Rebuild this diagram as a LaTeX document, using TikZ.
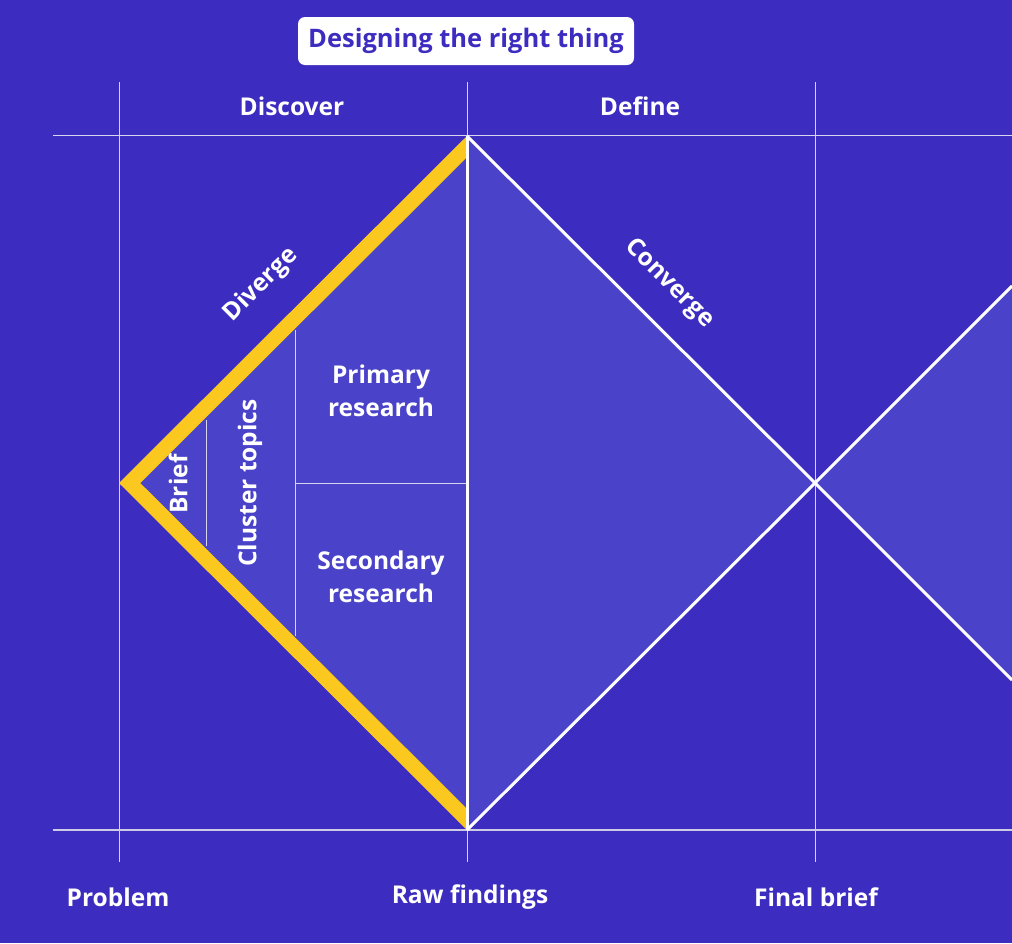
\documentclass[tikz,border=0pt]{standalone}
\usepackage{fontspec}
\setmainfont{Open Sans}
\definecolor{bg}{RGB}{61,44,192}
\definecolor{lite}{RGB}{74,66,200}
\definecolor{gold}{RGB}{250,200,30}
\definecolor{gridc}{RGB}{215,212,240}
\tikzset{
  gridline/.style={draw=gridc, line width=1pt},
  baseline2/.style={draw=gridc!90!gray, line width=2pt},
  innerline/.style={draw=gridc, line width=0.9pt},
  edgeline/.style={draw=white, line width=3pt},
  lbl/.style={text=white, font=\fontsize{24.5}{28}\selectfont\bfseries, inner sep=0pt},
  blk/.style={text=white, font=\fontsize{24.5}{33}\selectfont\bfseries, align=center, inner sep=0pt},
}
\begin{document}
\begin{tikzpicture}[x=1pt,y=-1pt]
\fill[bg] (0,0) rectangle (1012,943);
\useasboundingbox (0,0) rectangle (1012,943);
\coordinate (L) at (119,483);
\coordinate (T) at (467,136);
\coordinate (B) at (467,830);
\coordinate (R) at (815,483);
\coordinate (T2) at (1012,286);
\coordinate (B2) at (1012,680);
% fills
\fill[lite] (L)--(T)--(R)--(B)--cycle;
\fill[lite] (R)--(T2)--(B2)--cycle;
% grid
\coordinate (v1a) at (119,82); \coordinate (v1b) at (119,862);
\coordinate (v2a) at (467,82); \coordinate (v2b) at (467,862);
\coordinate (v3a) at (815,82); \coordinate (v3b) at (815,862);
\coordinate (h1a) at (53,135); \coordinate (h1b) at (1012,135);
\coordinate (h2a) at (53,830); \coordinate (h2b) at (1012,830);
\draw[gridline] (v1a)--(v1b);
\draw[gridline] (v2a)--(v2b);
\draw[gridline] (v3a)--(v3b);
\draw[gridline] (h1a)--(h1b);
\draw[baseline2] (h2a)--(h2b);
% inner lines
\coordinate (i1a) at (206,420); \coordinate (i1b) at (206,546);
\coordinate (i2a) at (295,330); \coordinate (i2b) at (295,636);
\coordinate (i3a) at (295,483); \coordinate (i3b) at (467,483);
\draw[innerline] (i1a)--(i1b);
\draw[innerline] (i2a)--(i2b);
\draw[innerline] (i3a)--(i3b);
% texts inside
\node[lbl, rotate=90] (brief) at (178,484) {Brief};
\node[lbl, rotate=90] (cluster) at (250,483) {Cluster topics};
\node[blk] (primary) at (381,391) {Primary\\research};
\node[blk] (secondary) at (381,577) {Secondary\\research};
% yellow edge
\begin{scope}
\clip (L)--(T)--(B)--cycle;
\draw[gold, line width=30pt, line join=miter] (T)--(L)--(B);
\end{scope}
% white edges
\draw[edgeline] (T)--(B);
\draw[edgeline, line join=miter] (T)--(R)--(B);
\draw[edgeline, line join=miter] (T2)--(R)--(B2);
% labels
\node[lbl, rotate=45] (diverge) at (261,285) {Diverge};
\node[lbl, rotate=-45] (converge) at (669,284) {Converge};
\node[lbl] (discover) at (292,106) {Discover};
\node[lbl] (define) at (640,106) {Define};
\node[lbl] (problem) at (118,897) {Problem};
\node[lbl] (raw) at (470,897) {Raw findings};
\node[lbl] (final) at (816,897) {Final brief};
% title
\node[fill=white, rounded corners=7pt, text=bg, font=\fontsize{25.5}{30}\selectfont\bfseries,
      minimum width=336pt, minimum height=48pt, inner sep=0pt] (title) at (466,41) {Designing the right thing};
\end{tikzpicture}
\end{document}
